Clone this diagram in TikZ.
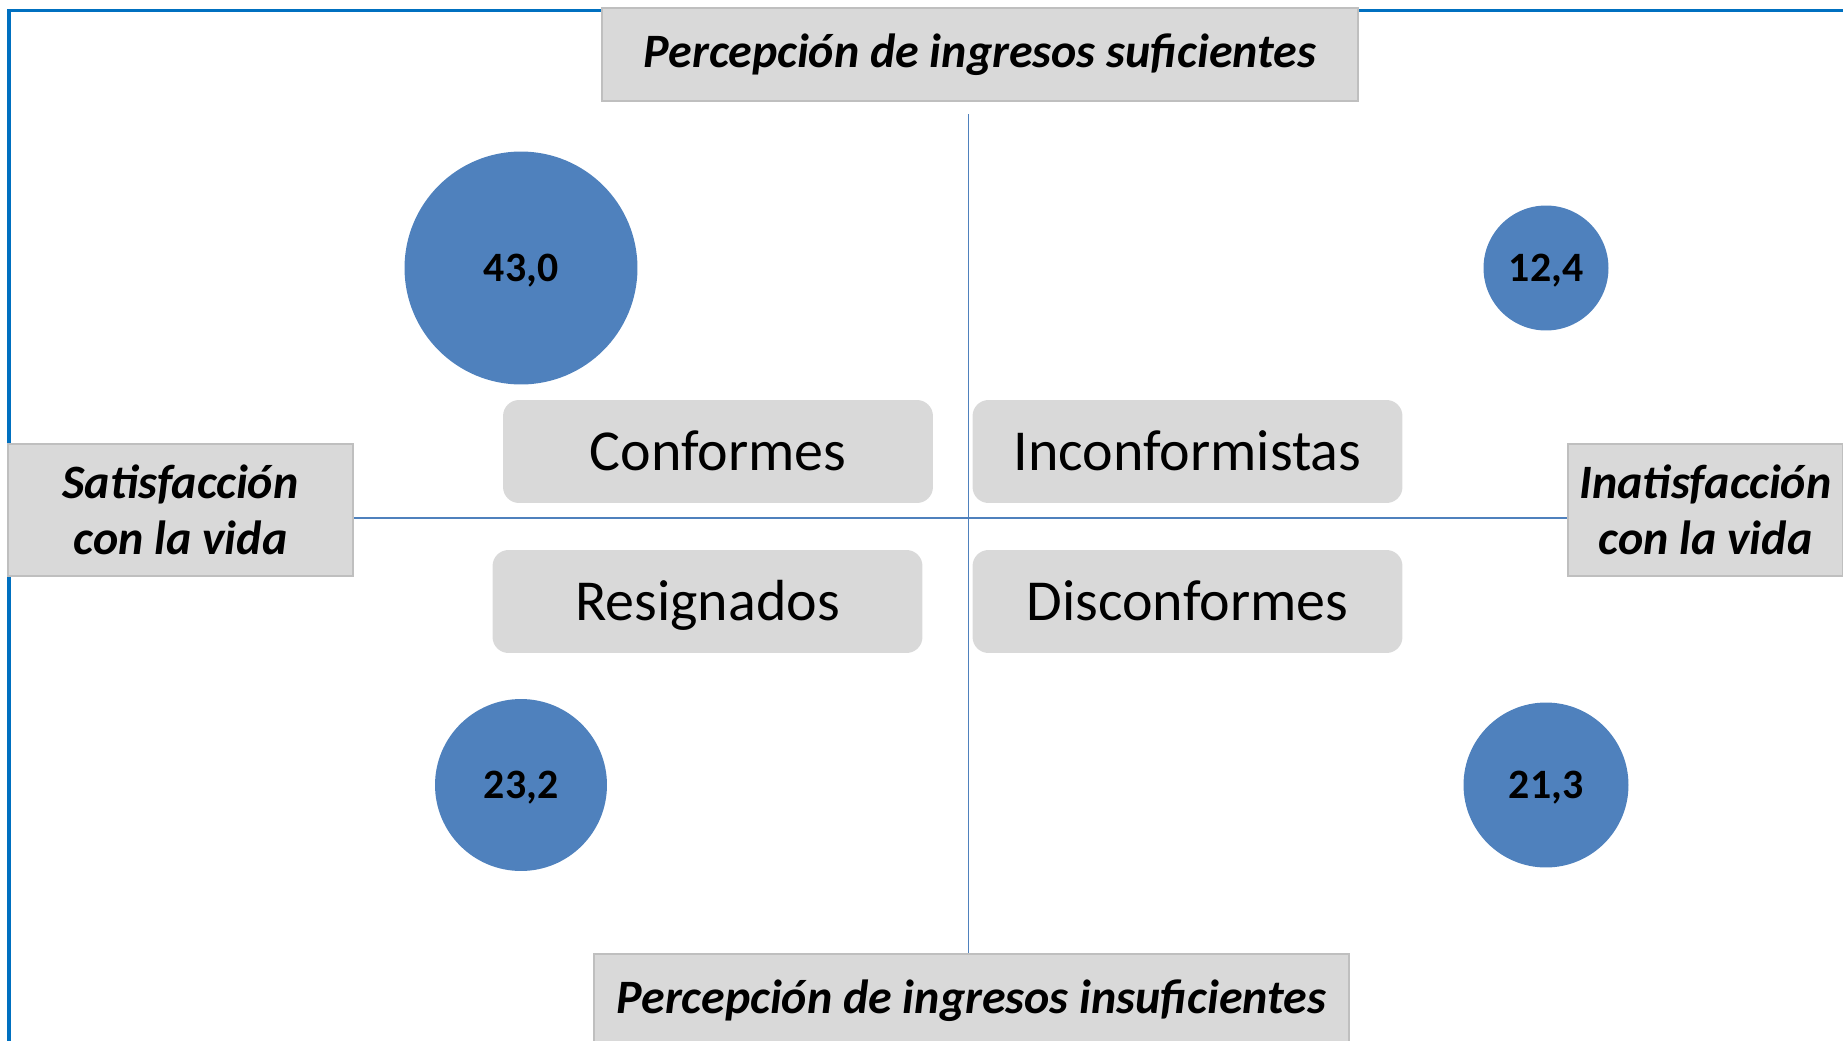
\documentclass[tikz,border=0pt]{standalone}
\usepackage{fontspec}
\setmainfont{Carlito}
\definecolor{circblue}{HTML}{4F81BD}
\definecolor{frameblue}{HTML}{0070C0}
\definecolor{boxgray}{HTML}{D9D9D9}
\definecolor{edgegray}{HTML}{BFBFBF}
\begin{document}
\begin{tikzpicture}[x=0.02cm,y=-0.02cm,
    axisbox/.style={draw=edgegray,line width=1.2pt,fill=boxgray,inner sep=0pt,align=center,
      font=\fontsize{27.3}{31.7}\selectfont\bfseries\itshape},
    group/.style={fill=boxgray,rounded corners=0.32cm,minimum width=8.6cm,minimum height=2.06cm,
      text height=21.2pt,text depth=0pt,font=\fontsize{33}{40}\selectfont},
    share/.style={circle,fill=circblue,inner sep=0pt,text height=15pt,text depth=0pt,
      font=\fontsize{23.8}{28}\selectfont\bfseries},
    axis/.style={circblue,line width=1pt}]
            \useasboundingbox (0,0) rectangle (1843,1041);
            \clip (0,0) rectangle (1843,1041);
            \draw[frameblue,line width=0.08cm] (9,1041) -- (9,10.5) -- (1843,10.5);

            \node[axisbox,minimum width=15.12cm,minimum height=1.86cm] (suf) at (980,54.5)
                {Percepción de ingresos suficientes};
            \node[axisbox,minimum width=15.1cm,minimum height=1.86cm] (insuf) at (971.5,1000.5)
                {Percepción de ingresos insuficientes};
            \node[axisbox,minimum width=6.9cm,minimum height=2.64cm] (sat) at (180.5,510)
                {Satisfacción\\ con la vida};
            \node[axisbox,minimum width=5.5cm,minimum height=2.64cm] (insat) at (1705.5,510)
                {Inatisfacción\\ con la vida};

            \coordinate (vtop) at (968.5,114);
            \coordinate (cross) at (968.5,518);
            \draw[axis] (vtop) -- (vtop |- insuf.north);
            \draw[axis] (sat.east |- cross) -- (insat.west |- cross);

            \node[group] (conf) at (718,451.5){Conformes};
            \node[group] (inconf) at (1187.5,451.5){Inconformistas};
            \node[group] (resig) at (707.5,601.5){Resignados};
            \node[group] (disconf) at (1187.5,601.5){Disconformes};

            \node[share,minimum size=4.66cm] (c_1) at (521,268){43,0};
            \node[share,minimum size=2.5cm] (c_2) at (1546,268){12,4};
            \node[share,minimum size=3.44cm] (c_3) at (521,785){23,2};
            \node[share,minimum size=3.3cm] (c_4) at (1546,785){21,3};
\end{tikzpicture}
\end{document}
